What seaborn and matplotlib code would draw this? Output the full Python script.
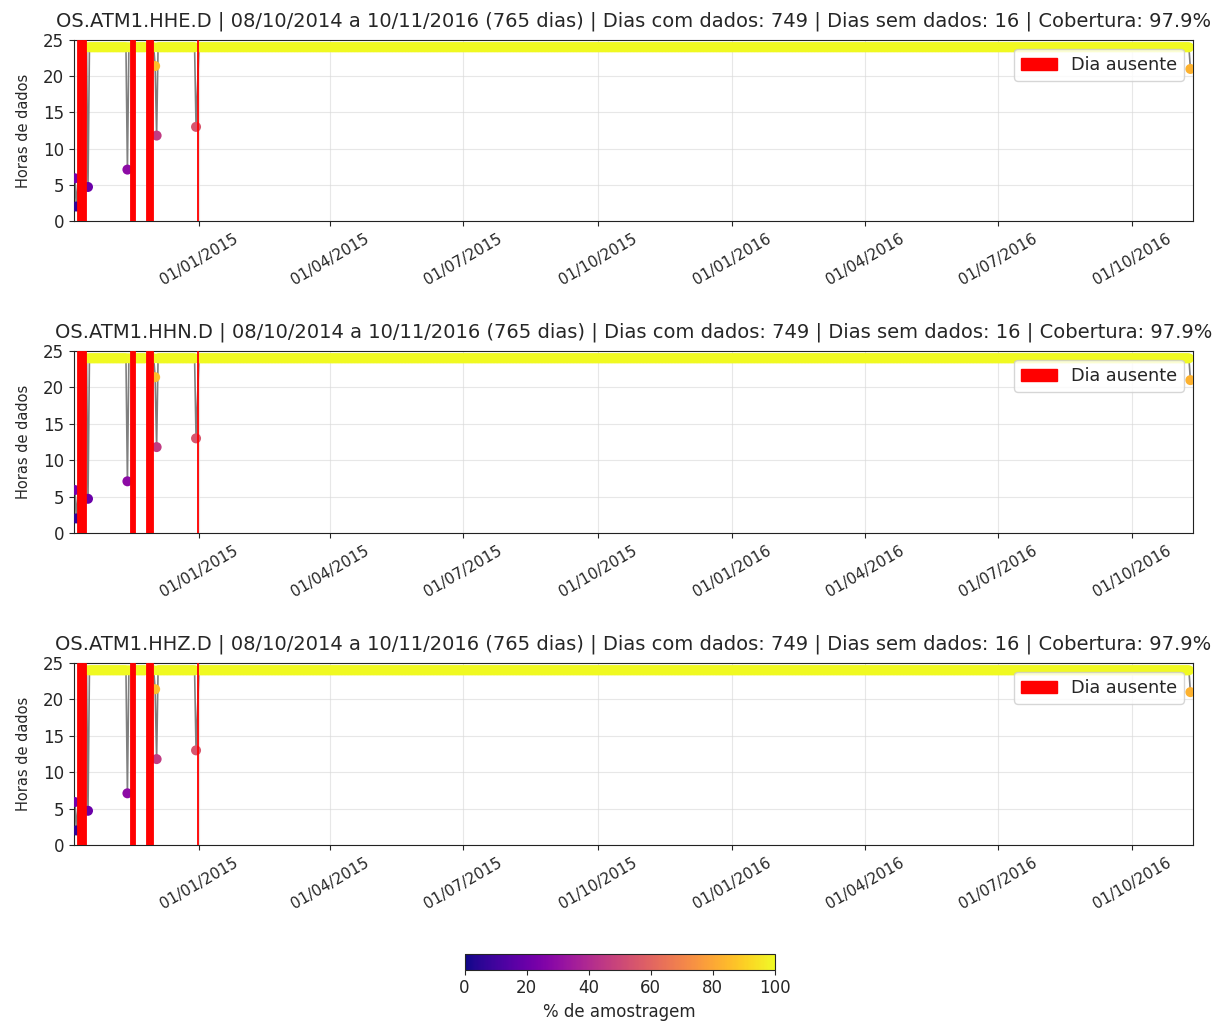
import numpy as np
import pandas as pd
import matplotlib
matplotlib.use("Agg")
import matplotlib.pyplot as plt
import matplotlib.dates as mdates
from matplotlib.patches import Patch
from matplotlib.colors import Normalize
from matplotlib.cm import ScalarMappable
import seaborn as sns

# Station channels, one panel each
channels = ["OS.ATM1.HHE.D", "OS.ATM1.HHN.D", "OS.ATM1.HHZ.D"]
start_date = "2014-10-08"
end_date = "2016-11-10"

# Day offsets (from the first day) with no data at all
missing_offsets = [2, 3, 4, 5, 6, 7, 38, 39, 40, 41, 49, 50, 51, 52, 53, 84]

# Incomplete days: day offset, hours recorded, sampling percentage
partial_offsets = [0, 1, 9, 36, 55, 56, 83, 764]
partial_hours = [5.9, 2.0, 4.7, 7.1, 21.4, 11.8, 13.0, 21.0]
partial_pct = [22, 6, 20, 29, 86, 46, 55, 83]

full_hours = 24.0
full_pct = 100.0


def build_daily_table():
    days = pd.date_range(start_date, end_date, freq="D")
    n = len(days)
    hours = np.full(n, full_hours)
    pct = np.full(n, full_pct)
    for off, h, p in zip(partial_offsets, partial_hours, partial_pct):
        hours[off] = h
        pct[off] = p
    keep = np.ones(n, dtype=bool)
    keep[missing_offsets] = False
    df = pd.DataFrame({"date": days[keep], "hours": hours[keep], "pct": pct[keep]})
    return days, df


days, daily = build_daily_table()
n_days = len(days)
n_missing = len(missing_offsets)
n_with = n_days - n_missing
coverage = 100.0 * n_with / n_days

sns.set_style("ticks")
plt.rcParams["font.family"] = ["DejaVu Sans"]

W, H = 1221, 1026
fig = plt.figure(figsize=(W / 100, H / 100), dpi=100)

left = 74 / W
width = (1192.7 - 74) / W
panel_boxes = [(40, 221), (351, 533), (663, 845)]

half_day = pd.Timedelta(hours=12)
for chan, (top, bottom) in zip(channels, panel_boxes):
    ax = fig.add_axes([left, (H - bottom) / H, width, (bottom - top) / H])
    ax.grid(True, color="#d8d8d8", linewidth=0.8, alpha=0.6)
    ax.set_axisbelow(True)

    sns.lineplot(data=daily, x="date", y="hours", color="gray", linewidth=1.2,
                 estimator=None, ax=ax, zorder=2)
    sns.scatterplot(data=daily, x="date", y="hours", hue="pct", palette="plasma",
                    hue_norm=(0, 100), s=52, linewidth=0, legend=False,
                    ax=ax, zorder=3)

    for off in missing_offsets:
        d = days[off]
        ax.axvspan(d - half_day, d + half_day, facecolor="red", edgecolor="red",
                   linewidth=0.6, zorder=4)

    ax.set_ylim(0, 25)
    ax.set_yticks(range(0, 26, 5))
    ax.set_xlim(days[0] - pd.Timedelta(hours=14), days[-1] + pd.Timedelta(hours=38))
    ax.xaxis.set_major_locator(mdates.MonthLocator(bymonth=[1, 4, 7, 10]))
    ax.xaxis.set_major_formatter(mdates.DateFormatter("%d/%m/%Y"))
    ax.tick_params(axis="x", labelsize=11, labelrotation=30)
    ax.tick_params(axis="y", labelsize=12)
    ax.set_xlabel("")
    ax.set_ylabel("Horas de dados", fontsize=10.5, labelpad=9)

    title = (f"{chan} | {days[0]:%d/%m/%Y} a {days[-1]:%d/%m/%Y} ({n_days} dias) | "
             f"Dias com dados: {n_with} | Dias sem dados: {n_missing} | "
             f"Cobertura: {coverage:.1f}%")
    ax.set_title(title, fontsize=14, pad=10)

    ax.legend(handles=[Patch(color="red", label="Dia ausente")],
              loc="upper right", fontsize=12.7)
    for s in ax.spines.values():
        s.set_color("#222222")

cax = fig.add_axes([464.5 / W, (H - 969.5) / H, 310 / W, 16 / H])
sm = ScalarMappable(norm=Normalize(0, 100), cmap="plasma")
cb = fig.colorbar(sm, cax=cax, orientation="horizontal")
cb.set_ticks([0, 20, 40, 60, 80, 100])
cb.ax.tick_params(labelsize=12)
cb.set_label("% de amostragem", fontsize=12)

fig.savefig("out.png", dpi=100)
